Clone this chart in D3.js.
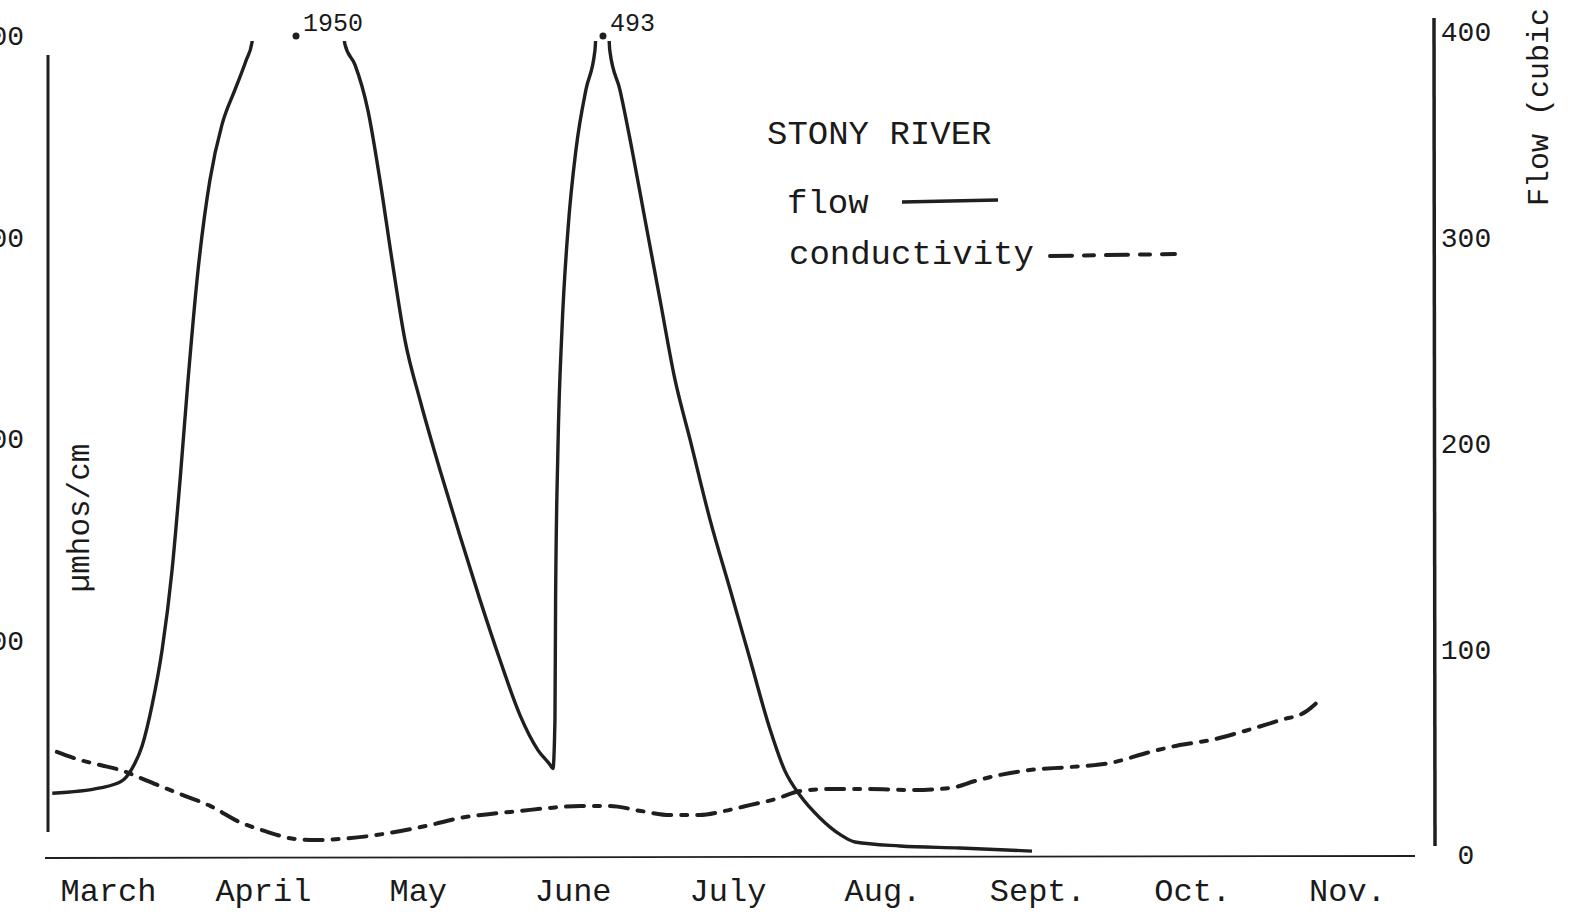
<!DOCTYPE html>
<html lang="en">
<head>
  <meta charset="UTF-8" />
  <title>Stony River - flow and conductivity</title>
  <script src="https://d3js.org/d3.v7.min.js"></script>
  <style>
    body { margin: 0; background: #fff; }
    svg { display: block; }
    text { font-family: 'Liberation Mono', 'Courier New', monospace; fill: #1a1a1a; }
  </style>
</head>
<body>
  <svg id="chart" width="1574" height="915"></svg>

  <script>
    // month labels, placed at the middle of each month (t = i + 0.5)
    const months = ["March", "April", "May", "June", "July", "Aug.", "Sept.", "Oct.", "Nov."];

    // flow (right axis), t = months since 1 March
    const flowT = [0.14, 0.45, 0.59, 0.655, 0.72, 0.785, 0.85, 0.913, 0.965, 1.017, 1.081, 1.158, 1.236, 1.32, 1.391, 1.43,
      1.714,
      2.03, 2.095, 2.178, 2.256, 2.334, 2.418, 2.515, 2.644, 2.773, 2.902, 3.03, 3.16, 3.276, 3.353, 3.373,
      3.386, 3.39, 3.405, 3.431, 3.47, 3.522, 3.586, 3.644,
      3.696,
      3.74, 3.805, 3.883, 3.967, 4.064, 4.161, 4.258, 4.387, 4.517, 4.646, 4.775, 4.87, 4.968, 5.097, 5.226, 5.323, 5.614, 6.0, 6.466];
    const flowValues = [30, 32.6, 36, 42, 53, 73, 100, 138, 182, 231, 284, 328, 355, 372, 386, 395,
      1950,
      394, 384, 362, 328, 289, 250, 221, 187, 155, 124, 95, 68, 51, 44, 42,
      66, 124, 197, 255, 304, 343, 372, 391,
      493,
      391, 372, 343, 309, 270, 231, 202, 163, 129, 95, 61, 41, 29, 18, 10, 6.3, 4.4, 3.4, 1.9];

    // peaks written by hand above the top of the scale
    const peakT = [1.714, 3.696];
    const peakLabels = ["1950", "493"];

    // conductivity (left axis, µmhos/cm)
    const condT = [0.17, 0.32, 0.45, 0.58, 0.71, 0.835, 1.0, 1.16, 1.35, 1.51, 1.71, 1.84, 2.0, 2.19, 2.39, 2.58, 2.77, 2.97,
      3.16, 3.35, 3.55, 3.74, 3.94, 4.13, 4.32, 4.48, 4.65, 4.81, 4.97, 5.16, 5.42, 5.68, 5.94, 6.1, 6.26, 6.45, 6.71,
      6.97, 7.23, 7.42, 7.62, 7.84, 8.07, 8.23, 8.31];
    const condValues = [44.7, 40.7, 38.2, 35.7, 31.8, 27.8, 22.8, 17.9, 9.9, 5.5, 1.5, 1.0, 1.5, 3.0, 5.5, 8.4, 11.9, 13.9,
      15.4, 16.9, 17.9, 17.9, 15.4, 13.4, 13.4, 15.4, 18.4, 21.3, 25.3, 26.3, 26.3, 25.8, 26.8, 30.3, 33.3, 35.7, 37.2,
      39.2, 44.7, 48.1, 50.6, 55.1, 60.5, 64.5, 69.5];

    const flowTicks = [0, 100, 200, 300, 400];
    const condTicks = [100, 200, 300, 400];

    const svg = d3.select("#chart");
    const ink = "#1f1f1f";

    // scales
    const x = d3.scaleLinear().domain([0.5, 8.5]).range([108, 1347]);
    const yFlow = d3.scaleLinear().domain([0, 400]).range([855, 32]);
    const yCond = d3.scaleLinear().domain([0, 400]).range([842, 36]);

    // clip: the flow line runs off the top of the sheet at the peaks
    svg.append("defs").append("clipPath").attr("id", "topclip")
      .append("rect").attr("x", 0).attr("y", 41).attr("width", 1574).attr("height", 874);

    // axis lines
    svg.append("line").attr("x1", 48).attr("y1", 55).attr("x2", 48).attr("y2", 832)
      .attr("stroke", ink).attr("stroke-width", 3);
    svg.append("line").attr("x1", 1434).attr("y1", 18).attr("x2", 1435).attr("y2", 846)
      .attr("stroke", ink).attr("stroke-width", 3.5);
    svg.append("line").attr("x1", 45).attr("y1", 858).attr("x2", 1415).attr("y2", 856)
      .attr("stroke", ink).attr("stroke-width", 1.8);

    // month axis
    const xAxis = svg.append("g")
      .attr("transform", "translate(0,858)")
      .call(d3.axisBottom(x).tickValues(months.map((m, i) => i + 0.5))
        .tickFormat((d, i) => months[i]).tickSize(0).tickPadding(20));
    xAxis.select(".domain").remove();
    xAxis.selectAll("text").attr("font-size", 32).attr("font-family", "'Liberation Mono', monospace").attr("fill", ink);

    // right axis: flow
    const rAxis = svg.append("g")
      .attr("transform", "translate(1466,0)")
      .call(d3.axisRight(yFlow).tickValues(flowTicks).tickSize(0).tickPadding(0));
    rAxis.select(".domain").remove();
    rAxis.selectAll("text").attr("font-size", 28).attr("text-anchor", "middle")
      .attr("font-family", "'Liberation Mono', monospace").attr("fill", ink);

    // left axis: conductivity (labels cut by the page edge, as on the sheet)
    const lAxis = svg.append("g")
      .attr("transform", "translate(24,0)")
      .call(d3.axisLeft(yCond).tickValues(condTicks).tickSize(0).tickPadding(0));
    lAxis.select(".domain").remove();
    lAxis.selectAll("text").attr("font-size", 28)
      .attr("font-family", "'Liberation Mono', monospace").attr("fill", ink);

    // axis titles
    svg.append("text")
      .attr("transform", "translate(89,518) rotate(-90)")
      .attr("text-anchor", "middle").attr("font-size", 31)
      .text("µmhos/cm");
    svg.append("text")
      .attr("transform", "translate(1548,206) rotate(-90)")
      .attr("text-anchor", "start").attr("font-size", 30)
      .text("Flow (cubic feet per second)");

    // flow line
    const flowLine = d3.line()
      .x((d, i) => x(flowT[i]))
      .y(d => yFlow(d))
      .curve(d3.curveMonotoneX);
    svg.append("path")
      .datum(flowValues)
      .attr("clip-path", "url(#topclip)")
      .attr("d", flowLine)
      .attr("fill", "none")
      .attr("stroke", ink)
      .attr("stroke-width", 3.4)
      .attr("stroke-linejoin", "round");

    // conductivity line, long and short dashes
    const condLine = d3.line()
      .x((d, i) => x(condT[i]))
      .y(d => yCond(d))
      .curve(d3.curveMonotoneX);
    svg.append("path")
      .datum(condValues)
      .attr("d", condLine)
      .attr("fill", "none")
      .attr("stroke", ink)
      .attr("stroke-width", 4)
      .attr("stroke-linecap", "round")
      .attr("stroke-dasharray", "18 10 6 10");

    // peak notes
    peakT.forEach((t, i) => {
      const px = x(t);
      svg.append("circle").attr("cx", px).attr("cy", 36).attr("r", 3.5).attr("fill", ink);
      svg.append("text")
        .attr("x", px + 7).attr("y", 31)
        .attr("font-family", "'Noto Sans', sans-serif")
        .attr("font-size", 25)
        .text(peakLabels[i]);
    });

    // legend
    svg.append("text").attr("x", 767).attr("y", 144).attr("font-size", 34).text("STONY RIVER");
    svg.append("text").attr("x", 787).attr("y", 213).attr("font-size", 34).text("flow");
    svg.append("line").attr("x1", 902).attr("y1", 202).attr("x2", 998).attr("y2", 200)
      .attr("stroke", ink).attr("stroke-width", 3.5);
    svg.append("text").attr("x", 789).attr("y", 264).attr("font-size", 34).text("conductivity");
    svg.append("line").attr("x1", 1050).attr("y1", 256).attr("x2", 1175).attr("y2", 254)
      .attr("stroke", ink).attr("stroke-width", 4).attr("stroke-linecap", "round")
      .attr("stroke-dasharray", "22 12 10 12");
  </script>
</body>
</html>
